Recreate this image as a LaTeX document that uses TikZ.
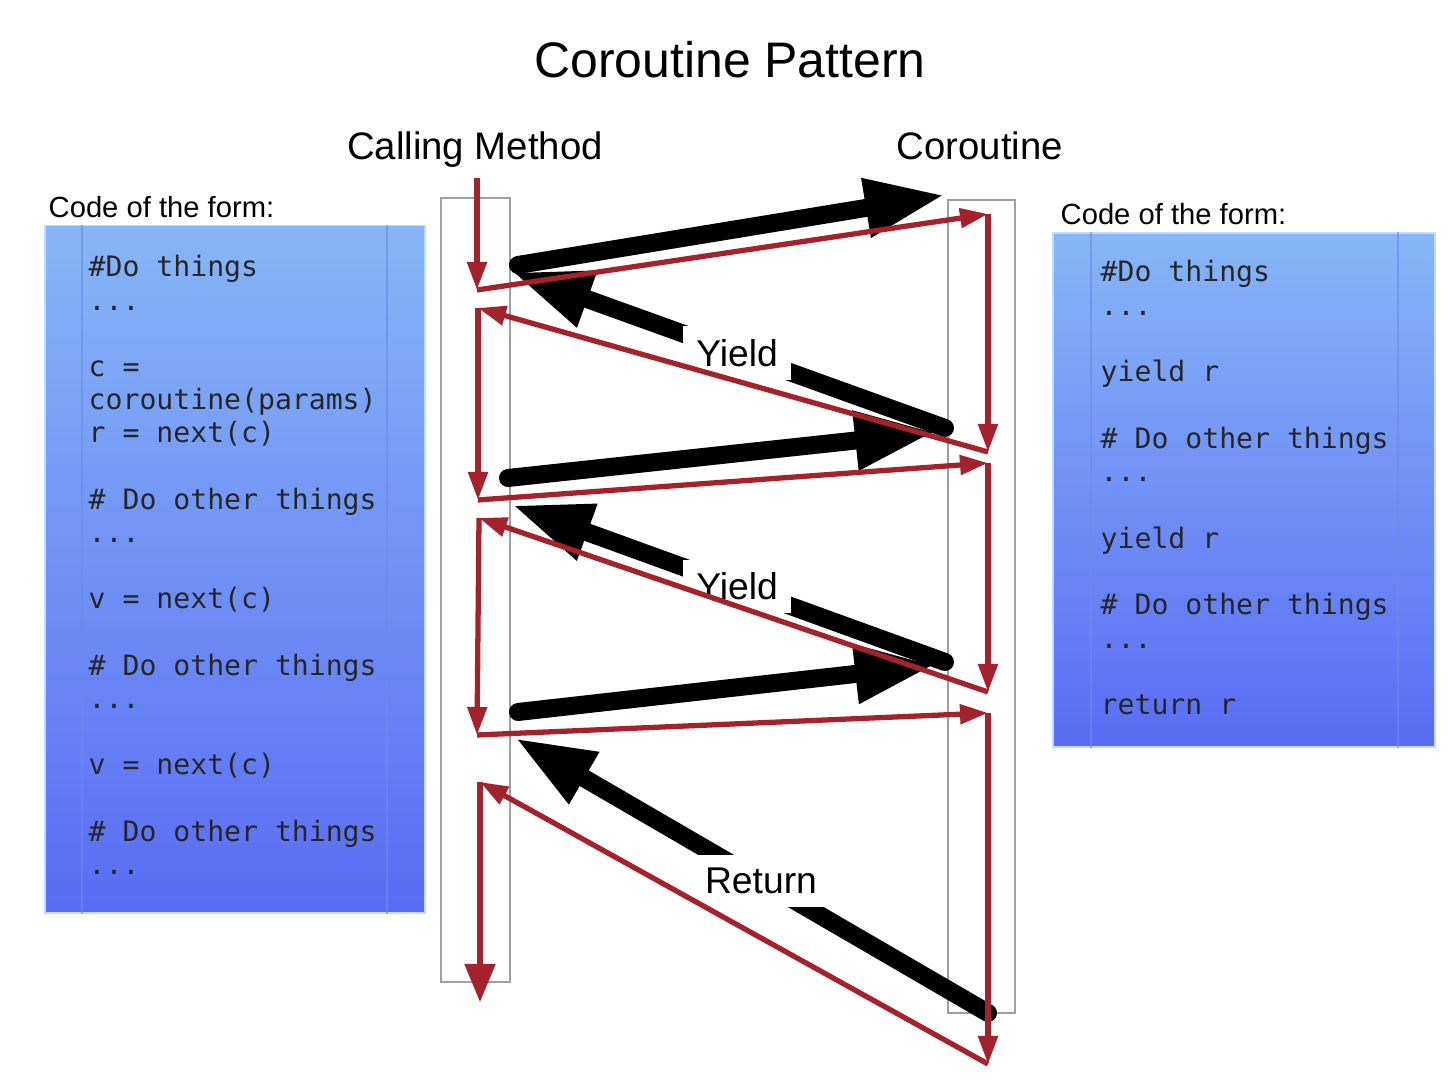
\documentclass[tikz,border=0pt]{standalone}
\usepackage{fontspec}
\setmainfont{Liberation Sans}
\newfontfamily\codefont{DejaVu Sans Mono}
\usepackage{tikz}
\usetikzlibrary{arrows.meta, calc}
\usepackage{xcolor}
\definecolor{flowred}{HTML}{A3222B}
\definecolor{boxtop}{HTML}{86B6F7}
\definecolor{boxbot}{HTML}{5A6CF4}
\definecolor{boxrule}{HTML}{6A8CE6}
\newcommand{\codedots}{...}

\begin{document}
\begin{tikzpicture}[
    x=0.01cm, y=-0.01cm,
    title/.style={font=\fontsize{14.2}{17}\selectfont},
    head/.style={font=\fontsize{10.9}{13}\selectfont, anchor=base},
    caption/.style={font=\fontsize{8.3}{10}\selectfont, anchor=base west, inner sep=0},
    codebox/.style={rectangle, top color=boxtop, bottom color=boxbot,
                    draw=boxtop!50!white, line width=0.4pt, inner sep=0},
    code/.style={anchor=base west, inner sep=0, text=black!85,
                 font=\codefont\fontsize{8}{9.5}\selectfont},
    lane/.style={rectangle, draw=gray!75, line width=0.5pt, inner sep=0},
    flow/.style={draw=flowred, line width=1.5pt, -{Triangle[length=0.28cm,width=0.19cm]}},
    bigflow/.style={line width=0.18cm, line cap=round, -{Triangle[length=0.8cm,width=0.55cm]}},
    lbl/.style={fill=white, inner sep=0.13cm, font=\fontsize{10.6}{12}\selectfont}
]
\useasboundingbox (0,0) rectangle (1454,1086);

% headings
\node[title] (title) at (730,60) {Coroutine Pattern};
\node[head] (hcall) at (475,160) {Calling Method};
\node[head] (hcoro) at (980,160) {Coroutine};
\node[caption] (lcap) at (48,218) {Code of the form:};
\node[caption] (rcap) at (1060,225) {Code of the form:};

% code panels
\node[codebox, minimum width=3.8cm, minimum height=6.87cm] (lbox) at (235,569.5) {};
\node[codebox, minimum width=3.82cm, minimum height=5.14cm] (rbox) at (1244,490) {};
\draw[boxrule, draw opacity=0.6] ($(lbox.north west)+(38,0)$) -- ($(lbox.south west)+(38,0)$);
\draw[boxrule, draw opacity=0.6] ($(lbox.north east)+(-39,0)$) -- ($(lbox.south east)+(-39,0)$);
\draw[boxrule, draw opacity=0.6] ($(rbox.north west)+(39,0)$) -- ($(rbox.south west)+(39,0)$);
\draw[boxrule, draw opacity=0.6] ($(rbox.north east)+(-38,0)$) -- ($(rbox.south east)+(-38,0)$);

\foreach \i/\t in {0/\#Do things, 1/\codedots, 3/c =, 4/coroutine(params), 5/r = next(c),
    7/\# Do other things, 8/\codedots, 10/v = next(c), 12/\# Do other things,
    13/\codedots, 15/v = next(c), 17/\# Do other things, 18/\codedots}
  \node[code] (lc\i) at (88,277+33.2*\i) {\t};

\foreach \i/\t in {0/\#Do things, 1/\codedots, 3/yield r, 5/\# Do other things,
    6/\codedots, 8/yield r, 10/\# Do other things, 11/\codedots, 13/return r}
  \node[code] (rc\i) at (1100,282+33.3*\i) {\t};

% lanes
\node[lane, minimum width=0.69cm, minimum height=7.84cm] (caller) at (475.5,590) {};
\node[lane, minimum width=0.67cm, minimum height=8.13cm] (coro) at (981.5,606.5) {};

% control transfer
\coordinate (go1) at (518,265);  \coordinate (in1) at (945,195);
\coordinate (bk1) at (945,428);  \coordinate (out1) at (512,272);
\coordinate (go2) at (508,478);  \coordinate (in2) at (935,432);
\coordinate (bk2) at (945,662);  \coordinate (out2) at (512,505);
\coordinate (go3) at (518,712);  \coordinate (in3) at (935,665);
\coordinate (bk3) at (988,1013); \coordinate (out3) at (515,738);

\draw[bigflow] (go1) -- (in1);
\draw[bigflow] (bk1) -- node[lbl, pos=0.48] (yield1) {Yield} (out1);
\draw[bigflow] (go2) -- (in2);
\draw[bigflow] (bk2) -- node[lbl, pos=0.48] (yield2) {Yield} (out2);
\draw[bigflow] (go3) -- (in3);
\draw[bigflow] (bk3) -- node[lbl, pos=0.48] (ret) {Return} (out3);

% execution path
\coordinate (p0) at (477,178);
\coordinate (p1) at (477,290);
\coordinate (q1) at (988,214);
\coordinate (q2) at (988,452);
\coordinate (p2) at (478,308);
\coordinate (p3) at (478,500);
\coordinate (q3) at (988,463);
\coordinate (q4) at (988,692);
\coordinate (p4) at (479,518);
\coordinate (p5) at (477,735);
\coordinate (q5) at (988,713);
\coordinate (q6) at (988,1064);
\coordinate (p6) at (480,782);
\coordinate (p7) at (480,1002);

\draw[flow] (p0) -- (p1);
\draw[flow] (p1) -- (q1);
\draw[flow] (q1) -- (q2);
\draw[flow] (q2) -- (p2);
\draw[flow] (p2) -- (p3);
\draw[flow] (p3) -- (q3);
\draw[flow] (q3) -- (q4);
\draw[flow] (q4) -- (p4);
\draw[flow] (p4) -- (p5);
\draw[flow] (p5) -- (q5);
\draw[flow] (q5) -- (q6);
\draw[flow] (q6) -- (p6);
\draw[flow, -{Triangle[length=0.38cm,width=0.3cm]}] (p6) -- (p7);
\end{tikzpicture}
\end{document}
